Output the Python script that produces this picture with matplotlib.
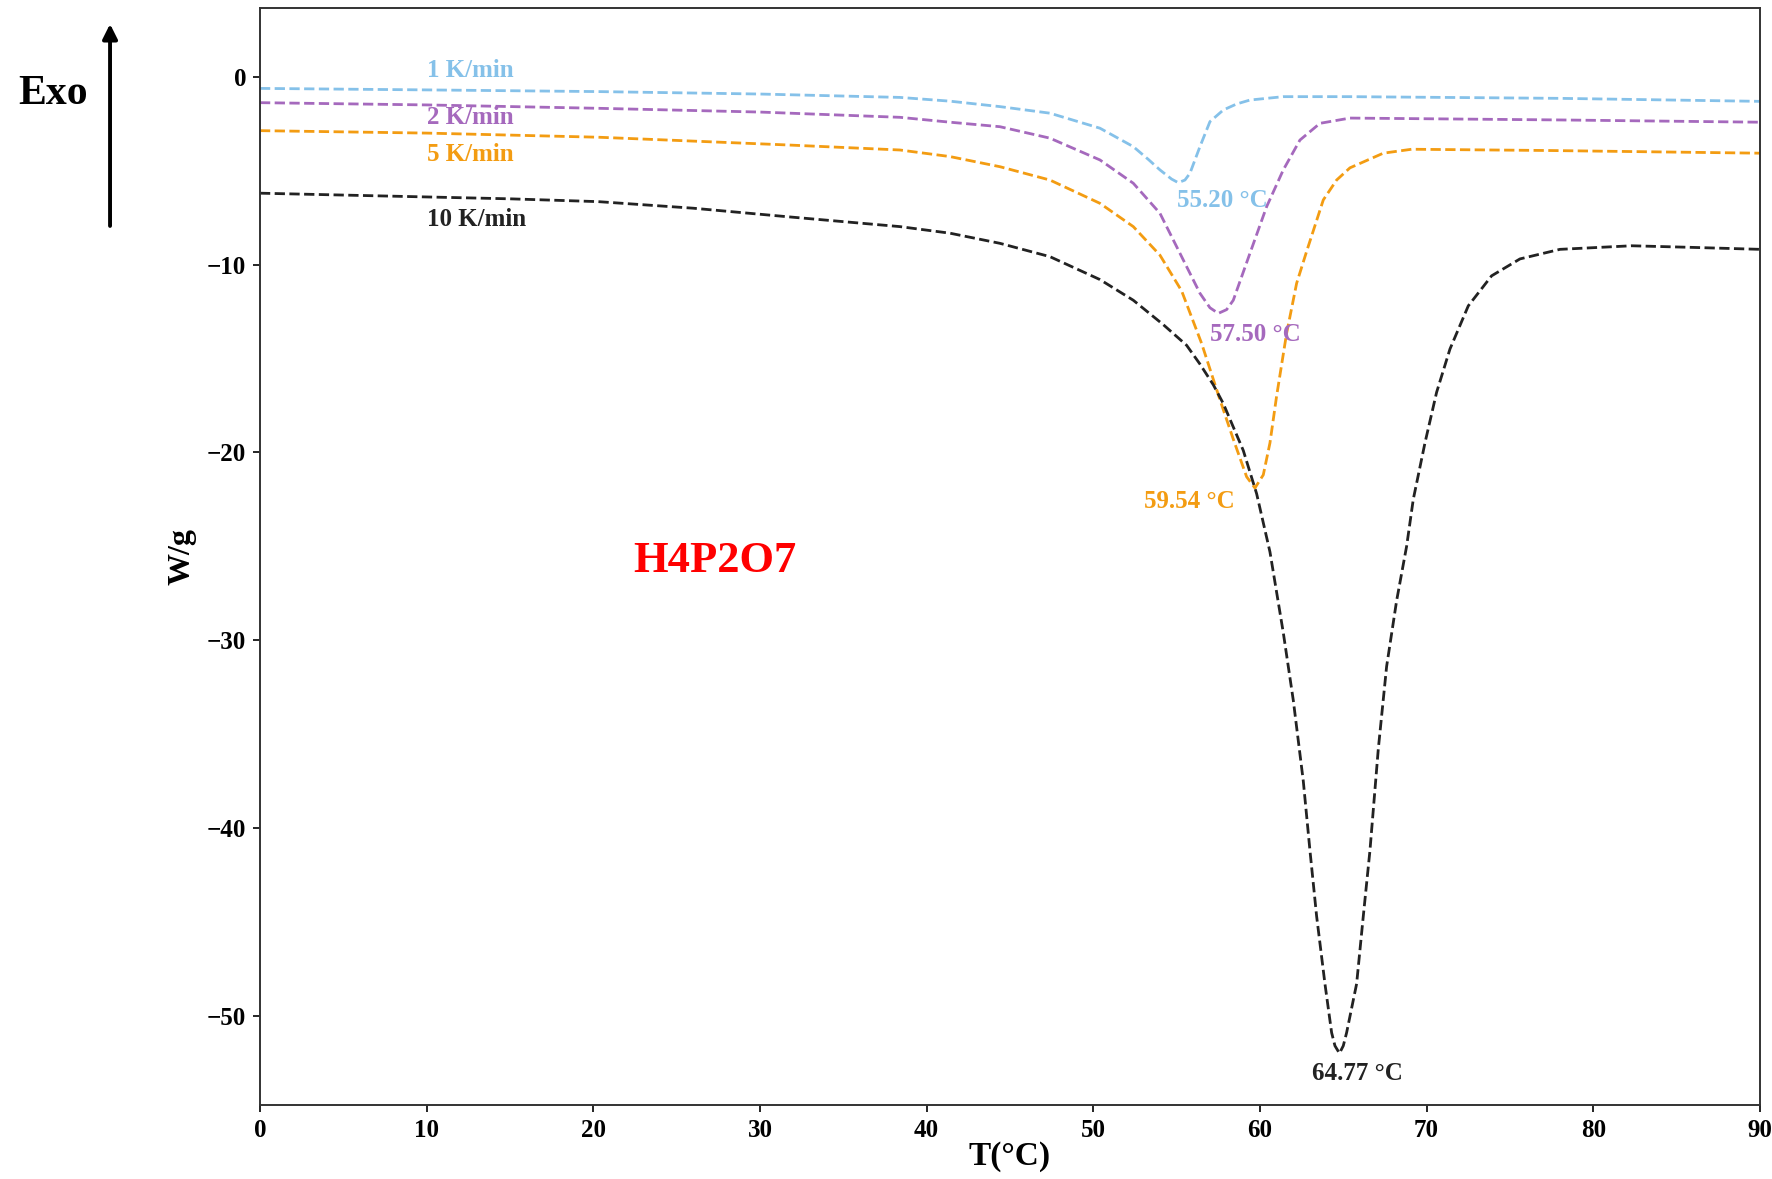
import matplotlib
matplotlib.use("Agg")
from matplotlib import pyplot as plt

plt.rcParams['font.family'] = ['Liberation Serif', 'DejaVu Serif']
plt.rcParams['font.weight'] = 'bold'

# 1 K/min
t1 = [0, 10, 20.3, 30, 38.4, 41.4, 44.4, 47.4, 50.4, 52.4, 53.3, 54.0, 54.7, 55.1, 55.5, 55.8, 56.4, 57.0, 57.8, 58.6, 59.4, 61.4, 65.4, 78, 90]
w1 = [-0.62, -0.7, -0.79, -0.92, -1.1, -1.3, -1.59, -1.94, -2.74, -3.72, -4.4, -4.96, -5.45, -5.64, -5.5, -5.14, -3.72, -2.39, -1.77, -1.45, -1.24, -1.06, -1.06, -1.15, -1.31]

# 2 K/min
t2 = [0, 10, 20.3, 30, 38.4, 41.4, 44.4, 47.4, 50.4, 52.4, 54.0, 55.2, 56.4, 57.0, 57.5, 58.0, 58.4, 59.4, 60.4, 61.4, 62.4, 63.6, 65.4, 78, 90]
w2 = [-1.38, -1.5, -1.68, -1.88, -2.16, -2.42, -2.66, -3.27, -4.43, -5.67, -7.27, -9.4, -11.53, -12.3, -12.6, -12.4, -11.9, -9.4, -6.92, -4.96, -3.37, -2.48, -2.2, -2.3, -2.42]

# 5 K/min
t5 = [0, 10, 20.3, 31.6, 38.4, 41.4, 44.4, 47.4, 50.4, 52.4, 54.0, 55.3, 56.5, 57.6, 58.4, 59.2, 59.7, 60.2, 60.6, 61.0, 61.6,
      62.2, 62.8, 63.8, 64.6, 65.4, 67.4, 69.1, 77.6, 90]
w5 = [-2.87, -3.0, -3.22, -3.63, -3.9, -4.25, -4.79, -5.5, -6.74, -7.98, -9.5, -11.4, -14.2, -17.2, -19.3, -21.3, -21.9, -21.2, -19.5, -17.0, -13.66,
      -11.0, -9.3, -6.56, -5.5, -4.85, -4.07, -3.86, -3.93, -4.07]

# 10 K/min
t10 = [0, 10, 15, 20.3, 26, 31.6, 38.4, 41.4, 44.4, 47.4, 50.4, 52.4, 54.2, 55.6, 56.4, 57.2, 57.8, 59.0, 59.8, 60.6, 61.4, 62.0, 62.6,
       63.0, 63.4, 63.9, 64.3, 64.5, 64.77, 65.0, 65.2, 65.8, 66.2, 66.6, 67.1, 67.6, 68.2, 68.8, 69.2, 69.9, 70.6, 71.4, 72.5, 73.9,
       75.6, 78.0, 82.3, 85.7, 90]
w10 = [-6.2, -6.4, -6.5, -6.65, -7.0, -7.45, -7.98, -8.33, -8.87, -9.58, -10.8, -11.9, -13.2, -14.3, -15.3, -16.4, -17.4, -19.9, -22.2, -25.3, -29.6, -33.2, -37.5,
       -41.2, -44.7, -48.3, -50.9, -51.6, -52.0, -51.6, -50.9, -48.3, -44.7, -41.2, -35.8, -31.4, -27.9, -25.0, -22.5, -19.5, -16.8, -14.5, -12.2, -10.6,
       -9.7, -9.19, -9.0, -9.08, -9.19]

rates = ["1 K/min", "2 K/min", "5 K/min", "10 K/min"]
colors = ["#85C1E9", "#A569BD", "#F39C12", "#222222"]
peaks = ["55.20 °C", "57.50 °C", "59.54 °C", "64.77 °C"]

fig = plt.figure(figsize=(17.72, 11.79), dpi=100)
ax = fig.add_axes([0.1467, 0.0628, 0.8465, 0.9304])

curves = [(t1, w1), (t2, w2), (t5, w5), (t10, w10)]
for (t, w), c in zip(curves, colors):
    ax.plot(t, w, linestyle='--', color=c, linewidth=2.0)

ax.set_xlim(0, 90)
ax.set_ylim(-54.75, 3.66)
ax.set_xticks(range(0, 91, 10))
ax.set_yticks([0, -10, -20, -30, -40, -50])
ax.tick_params(labelsize=18, length=5, width=1.2, pad=5)
for lab in ax.get_xticklabels() + ax.get_yticklabels():
    lab.set_fontweight('bold')
for sp in ax.spines.values():
    sp.set_linewidth(1.4)
    sp.set_color('#333333')

ax.set_xlabel("T(°C)", fontsize=24, fontweight='bold')
ax.set_ylabel("W/g", fontsize=23, fontweight='bold')
ax.xaxis.set_label_coords(0.5, -0.033)
ax.yaxis.set_label_coords(-0.042, 0.5)

# rate labels
label_pos = [(10, 0.35), (10, -2.15), (10, -4.15), (10, -7.6)]
for (x, y), txt, c in zip(label_pos, rates, colors):
    ax.text(x, y, txt, color=c, fontsize=18, fontweight='bold', ha='left', va='center')

# peak labels
peak_pos = [(55.0, -6.6, 'left'), (57.0, -13.7, 'left'), (58.5, -22.6, 'right'), (63.1, -53.1, 'left')]
for (x, y, ha), txt, c in zip(peak_pos, peaks, colors):
    ax.text(x, y, txt, color=c, fontsize=18, fontweight='bold', ha=ha, va='center')

ax.text(27.3, -25.8, "H4P2O7", color='red', fontsize=32, fontweight='bold', ha='center', va='center')

# Exo arrow
fig.text(0.0102, 0.920, "Exo", fontsize=30, fontweight='bold', ha='left', va='center')
ax.annotate('', xy=(0.0621, 0.982), xytext=(0.0621, 0.806), xycoords='figure fraction',
            textcoords='figure fraction',
            arrowprops=dict(arrowstyle='-|>', lw=2.8, color='black', mutation_scale=22))

plt.savefig("out.png", dpi=100)
